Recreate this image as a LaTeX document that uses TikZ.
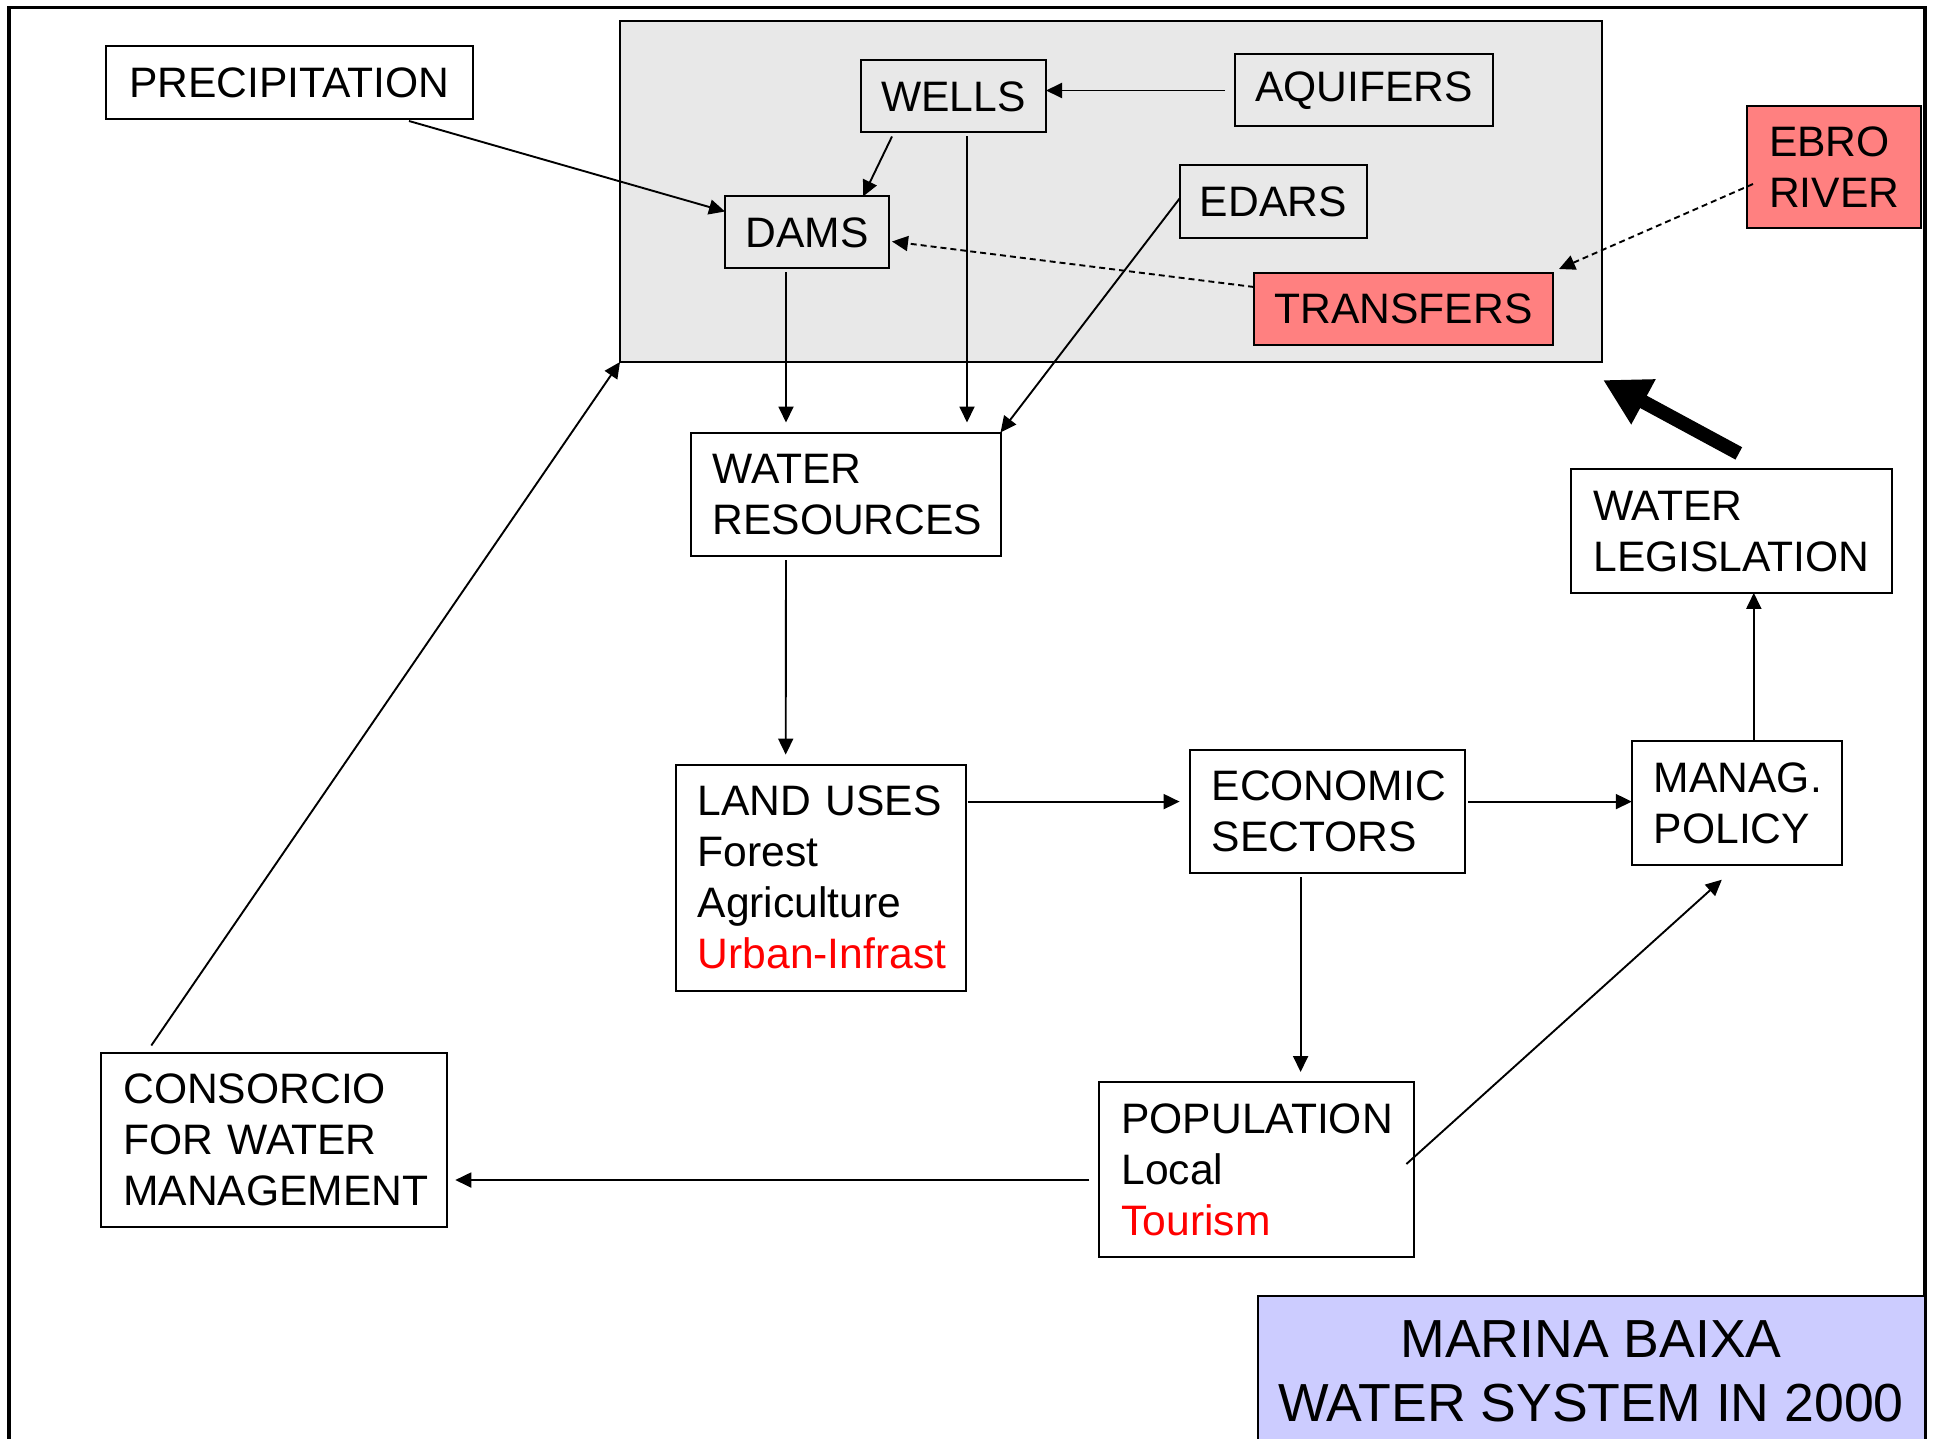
\documentclass[tikz,border=0pt]{standalone}
\usepackage{fontspec}
\setmainfont{Liberation Sans}
\usetikzlibrary{arrows.meta,calc}
\definecolor{panelgray}{RGB}{232,232,232}
\definecolor{salmon}{RGB}{255,128,128}
\definecolor{lavender}{RGB}{204,204,255}
\definecolor{hotred}{RGB}{255,0,0}
\hyphenpenalty=10000
\exhyphenpenalty=10000

\begin{document}
\begin{tikzpicture}[x=0.5pt,y=-0.5pt,
  every node/.style={outer sep=0pt},
  txt/.style={font=\fontsize{21.3pt}{25.5pt}\selectfont},
  box/.style={txt,draw,line width=1pt,anchor=north west,inner sep=0pt,align=center},
  lbox/.style={txt,draw,line width=1pt,anchor=north west,inner ysep=0pt,inner xsep=11pt,align=left},
  arr/.style={line width=0.95pt,-{Triangle[length=8pt,width=7.5pt]}},
  darr/.style={arr,dash pattern=on 3pt off 2pt}
]
\useasboundingbox (0,0) rectangle (1937,1439);

% outer frame (its lower edge lies below the page)
\draw[line width=1.7pt] (9,1480) -- (9,7.5) -- (1925,7.5) -- (1925,1480);

% supply panel
\node[draw, fill=panelgray, line width=1.3pt, anchor=north west,
      minimum width=491pt, minimum height=170.5pt, inner sep=0pt] (supply) at (620,21) {};

% single-line boxes
\node[box, minimum width=183.5pt, minimum height=36.5pt] (precip) at (106,46) {PRECIPITATION};
\node[box, minimum width=92.5pt, minimum height=36pt] (wells) at (861,60.5) {WELLS};
\node[box, minimum width=129pt, minimum height=36pt] (aquifers) at (1235,54.5) {AQUIFERS};
\node[box, minimum width=82pt, minimum height=36pt] (dams) at (725,196.5) {DAMS};
\node[box, minimum width=93.25pt, minimum height=36.5pt] (edars) at (1180,165.5) {EDARS};
\node[box, fill=salmon, minimum width=149.5pt, minimum height=36pt] (transfers) at (1254,273) {TRANSFERS};

% multi-line boxes
\node[lbox, fill=salmon, text width=65pt, minimum height=61pt] (ebro) at (1747,106) {EBRO\\RIVER};
\node[lbox, text width=133pt, minimum height=61.75pt] (wres) at (690.5,432.5) {WATER\\RESOURCES};
\node[lbox, text width=138.5pt, minimum height=61.75pt] (legis) at (1571.3,469.4) {WATER\\LEGISLATION};
\node[lbox, text width=123pt, minimum height=113pt] (land) at (675.7,764.6)
  {LAND USES\\Forest\\Agriculture\\\textcolor{hotred}{Urban-Infrast}};
\node[lbox, text width=115.7pt, minimum height=61.8pt] (econ) at (1189.6,749.8) {ECONOMIC\\SECTORS};
\node[lbox, text width=83pt, minimum height=61.75pt] (manag) at (1631.8,741.2) {MANAG.\\POLICY};
\node[lbox, text width=151pt, minimum height=87pt] (cons) at (101.3,1052.5) {CONSORCIO\\FOR WATER\\MANAGEMENT};
\node[lbox, text width=135.5pt, minimum height=87.7pt] (pop) at (1099.4,1082) {POPULATION\\Local\\\textcolor{hotred}{Tourism}};

% title (its lower edge lies below the page)
\node[draw, fill=lavender, line width=1pt, anchor=north west, minimum width=333.5pt,
      minimum height=75.5pt, inner sep=0pt, align=center,
      font=\fontsize{26.8pt}{32pt}\selectfont] (title) at (1257.5,1296)
  {MARINA BAIXA\\WATER SYSTEM IN 2000};

% connectors inside the supply panel
\draw[arr] ($(precip.south west)+(303,2)$) -- ($(dams.north west)+(0,15)$);
\coordinate (aq) at ($(aquifers.west)+(-10,0)$);
\draw[arr] (aq) -- (aq -| wells.east);
\draw[arr] ($(wells.south west)+(31,4)$) -- ($(dams.north west)+(138,0)$);
\coordinate (wsrc) at ($(wells.south west)+(106,4)$);
\draw[arr] (wsrc) -- ($(wsrc |- wres.north)+(0,-10)$);
\coordinate (dsrc) at ($(dams.south west)+(61,4)$);
\draw[arr] (dsrc) -- ($(dsrc |- wres.north)+(0,-10)$);
\draw[arr] ($(edars.west)+(0,-4)$) -- (wres.north east);
\draw[darr] ($(transfers.north west)+(0,14)$) -- ($(dams.east)+(3,9)$);
\draw[darr] ($(ebro.west)+(6,17)$) -- ($(transfers.north east)+(6,-4)$);

% main chain
\draw[arr] ($(wres.south west)+(95.5,4)$) -- ($(land.north west)+(110,-10)$);
\coordinate (lsrc) at ($(land.north east)+(2,37)$);
\draw[arr] (lsrc) -- ($(lsrc -| econ.west)+(-10,0)$);
\coordinate (esrc) at ($(econ.east |- lsrc)+(3,0)$);
\draw[arr] (esrc) -- (esrc -| manag.west);
\coordinate (msrc) at ($(manag.north west)+(122,0)$);
\draw[arr] (msrc) -- (msrc |- legis.south);
\coordinate (esrc2) at ($(econ.south west)+(111,4)$);
\draw[arr] (esrc2) -- ($(esrc2 |- pop.north)+(0,-10)$);
\draw[arr] ($(pop.north east)+(-8,82)$) -- ($(manag.south west)+(90,15)$);
\coordinate (psrc) at ($(pop.north west)+(-10,98)$);
\draw[arr] (psrc) -- ($(psrc -| cons.east)+(8,0)$);
\draw[arr] ($(cons.north west)+(50,-7)$) -- (supply.south west);

% legislation acting on the supply
\draw[line width=7pt,-{Triangle[length=23pt,width=24pt]}]
  ($(legis.north)+(7,-16)$) -- ($(supply.south east)+(1,18)$);
\end{tikzpicture}
\end{document}
